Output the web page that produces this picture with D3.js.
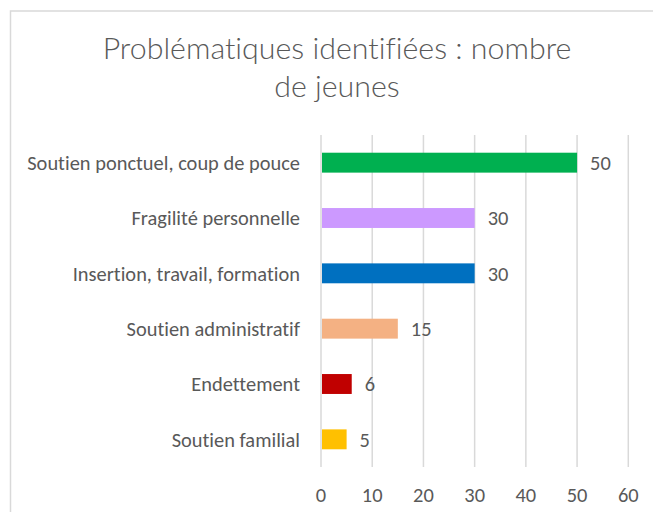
<!DOCTYPE html>
<html>
<head>
<meta charset="utf-8">
<script src="https://cdn.jsdelivr.net/npm/d3@7"></script>
<style>
  html, body { margin: 0; padding: 0; background: #fff; }
  svg { display: block; }
  text { font-family: Carlito, Calibri, "Open Sans", sans-serif; fill: #595959; font-variant-ligatures: none; }
  text.title { font-family: Lato, Carlito, sans-serif; font-weight: 300; }
</style>
</head>
<body>
<svg id="chart" width="653" height="512"></svg>
<script>
const categories = [
  "Soutien ponctuel, coup de pouce",
  "Fragilité personnelle",
  "Insertion, travail, formation",
  "Soutien administratif",
  "Endettement",
  "Soutien familial"
];
const values = [50, 30, 30, 15, 6, 5];
const colors = ["#00B050", "#CC99FF", "#0070C0", "#F4B183", "#C00000", "#FFC000"];
const xTicks = [0, 10, 20, 30, 40, 50, 60];
const titleLines = ["Problématiques identifiées : nombre", "de jeunes"];

const svg = d3.select("#chart");

// fit a font size so that a sample string reaches a target width
function fitSize(sample, targetWidth, base, cls) {
  const t = svg.append("text").attr("class", cls || null).attr("font-size", base).text(sample);
  const w = t.node().getComputedTextLength();
  t.remove();
  return base * targetWidth / w;
}
const labelSize = fitSize(categories[0], 273, 16);
const titleSize = fitSize(titleLines[0], 469, 28, "title");

// chart border
svg.append("rect")
  .attr("x", 10.5).attr("y", 11).attr("width", 660).attr("height", 520)
  .attr("fill", "#fff").attr("stroke", "#d9d9d9").attr("stroke-width", 1.5);

const x = d3.scaleLinear().domain([0, 60]).range([321, 628.3]);
const y = d3.scaleBand().domain(categories).range([135, 467])
  .paddingInner(0.64).paddingOuter(0.32);

// gridlines
svg.append("g").selectAll("line").data(xTicks).join("line")
  .attr("x1", d => x(d)).attr("x2", d => x(d))
  .attr("y1", 135).attr("y2", 467)
  .attr("stroke", "#d9d9d9").attr("stroke-width", 1.5);

// bars
svg.append("g").selectAll("rect").data(values).join("rect")
  .attr("x", x(0) + 1)
  .attr("y", (d, i) => y(categories[i]))
  .attr("width", d => x(d) - x(0) - 1)
  .attr("height", y.bandwidth())
  .attr("fill", (d, i) => colors[i]);

// value labels
svg.append("g").selectAll("text").data(values).join("text")
  .attr("x", d => x(d) + 13)
  .attr("y", (d, i) => y(categories[i]) + y.bandwidth() / 2)
  .attr("dy", "0.36em")
  .attr("font-size", labelSize)
  .text(d => d);

// category labels
svg.append("g").selectAll("text").data(categories).join("text")
  .attr("x", 300)
  .attr("y", d => y(d) + y.bandwidth() / 2)
  .attr("dy", "0.36em")
  .attr("text-anchor", "end")
  .attr("font-size", labelSize)
  .text(d => d);

// x tick labels
svg.append("g").selectAll("text").data(xTicks).join("text")
  .attr("x", d => x(d))
  .attr("y", 495)
  .attr("dy", "0.36em")
  .attr("text-anchor", "middle")
  .attr("font-size", labelSize)
  .text(d => d);

// title
svg.append("g").selectAll("text").data(titleLines).join("text")
  .attr("class", "title")
  .attr("x", 337)
  .attr("y", (d, i) => 59 + i * 38)
  .attr("text-anchor", "middle")
  .attr("font-size", titleSize)
  .text(d => d);
</script>
</body>
</html>
